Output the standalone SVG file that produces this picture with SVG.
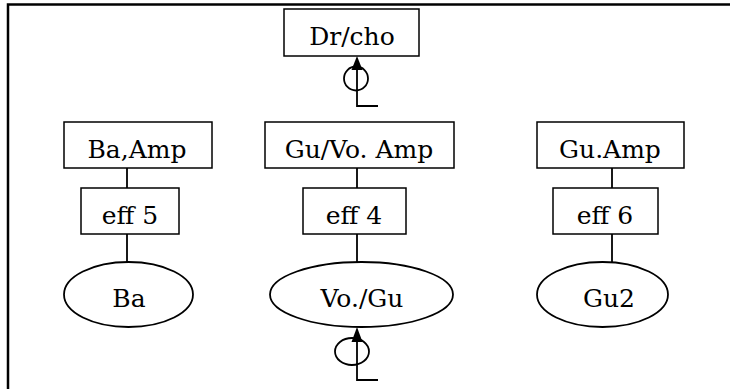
<svg xmlns="http://www.w3.org/2000/svg" width="730" height="389" viewBox="0 0 730 389">
<defs>
<style>
.box{fill:#fff;stroke:#000;stroke-width:1.5}
.ell{fill:#fff;stroke:#000;stroke-width:1.8}
.t{font-family:"DejaVu Serif","Liberation Serif",serif;font-size:25px;fill:#000;text-anchor:middle}
.ln{fill:none;stroke:#000;stroke-width:1.8}
.head{fill:#000;stroke:none}
.frame{fill:none;stroke:#000;stroke-width:2.5}
</style>
</defs>
<rect width="730" height="389" fill="#fff"/>
<path class="frame" d="M8,389 V4.5 H730"/>
<g id="connectors">
<line class="ln" x1="127" y1="168" x2="127" y2="188"/>
<line class="ln" x1="127" y1="234" x2="127" y2="262"/>
<line class="ln" x1="357" y1="168" x2="357" y2="188"/>
<line class="ln" x1="357" y1="234" x2="357" y2="262"/>
<line class="ln" x1="612" y1="168" x2="612" y2="188"/>
<line class="ln" x1="612" y1="234" x2="612" y2="262"/>
<g id="loop-top">
<circle class="ln" cx="356" cy="78.5" r="12"/>
<path class="ln" d="M378,106 H357 V66"/>
<polygon class="head" points="357,56 351.5,70 362.5,70"/>
</g>
<g id="loop-bottom">
<ellipse class="ln" cx="352" cy="351.5" rx="17" ry="13.5"/>
<path class="ln" d="M378,380 H357 V338"/>
<polygon class="head" points="357,327 351.5,342 362.5,342"/>
</g>
</g>
<g id="drcho"><rect class="box" x="284" y="9" width="135" height="47"/><text class="t" x="352" y="45">Dr/cho</text></g>
<g id="ba-amp"><rect class="box" x="64" y="122" width="148" height="46"/><text class="t" x="137" y="158">Ba,Amp</text></g>
<g id="guvo-amp"><rect class="box" x="265" y="122" width="189" height="46"/><text class="t" x="359" y="158">Gu/Vo. Amp</text></g>
<g id="gu-amp"><rect class="box" x="537" y="122" width="147" height="46"/><text class="t" x="610" y="158">Gu.Amp</text></g>
<g id="eff5"><rect class="box" x="81" y="188" width="98" height="46"/><text class="t" x="130" y="224">eff 5</text></g>
<g id="eff4"><rect class="box" x="303" y="188" width="103" height="46"/><text class="t" x="354" y="224">eff 4</text></g>
<g id="eff6"><rect class="box" x="553" y="188" width="105" height="46"/><text class="t" x="605" y="224">eff 6</text></g>
<g id="ba"><ellipse class="ell" cx="128.5" cy="294.5" rx="64.5" ry="32.5"/><text class="t" x="129" y="307">Ba</text></g>
<g id="vogu"><ellipse class="ell" cx="361.5" cy="294.5" rx="91.5" ry="32.5"/><text class="t" x="362" y="307">Vo./Gu</text></g>
<g id="gu2"><ellipse class="ell" cx="602.5" cy="294.5" rx="65.5" ry="32.5"/><text class="t" x="609" y="307">Gu2</text></g>
</svg>
